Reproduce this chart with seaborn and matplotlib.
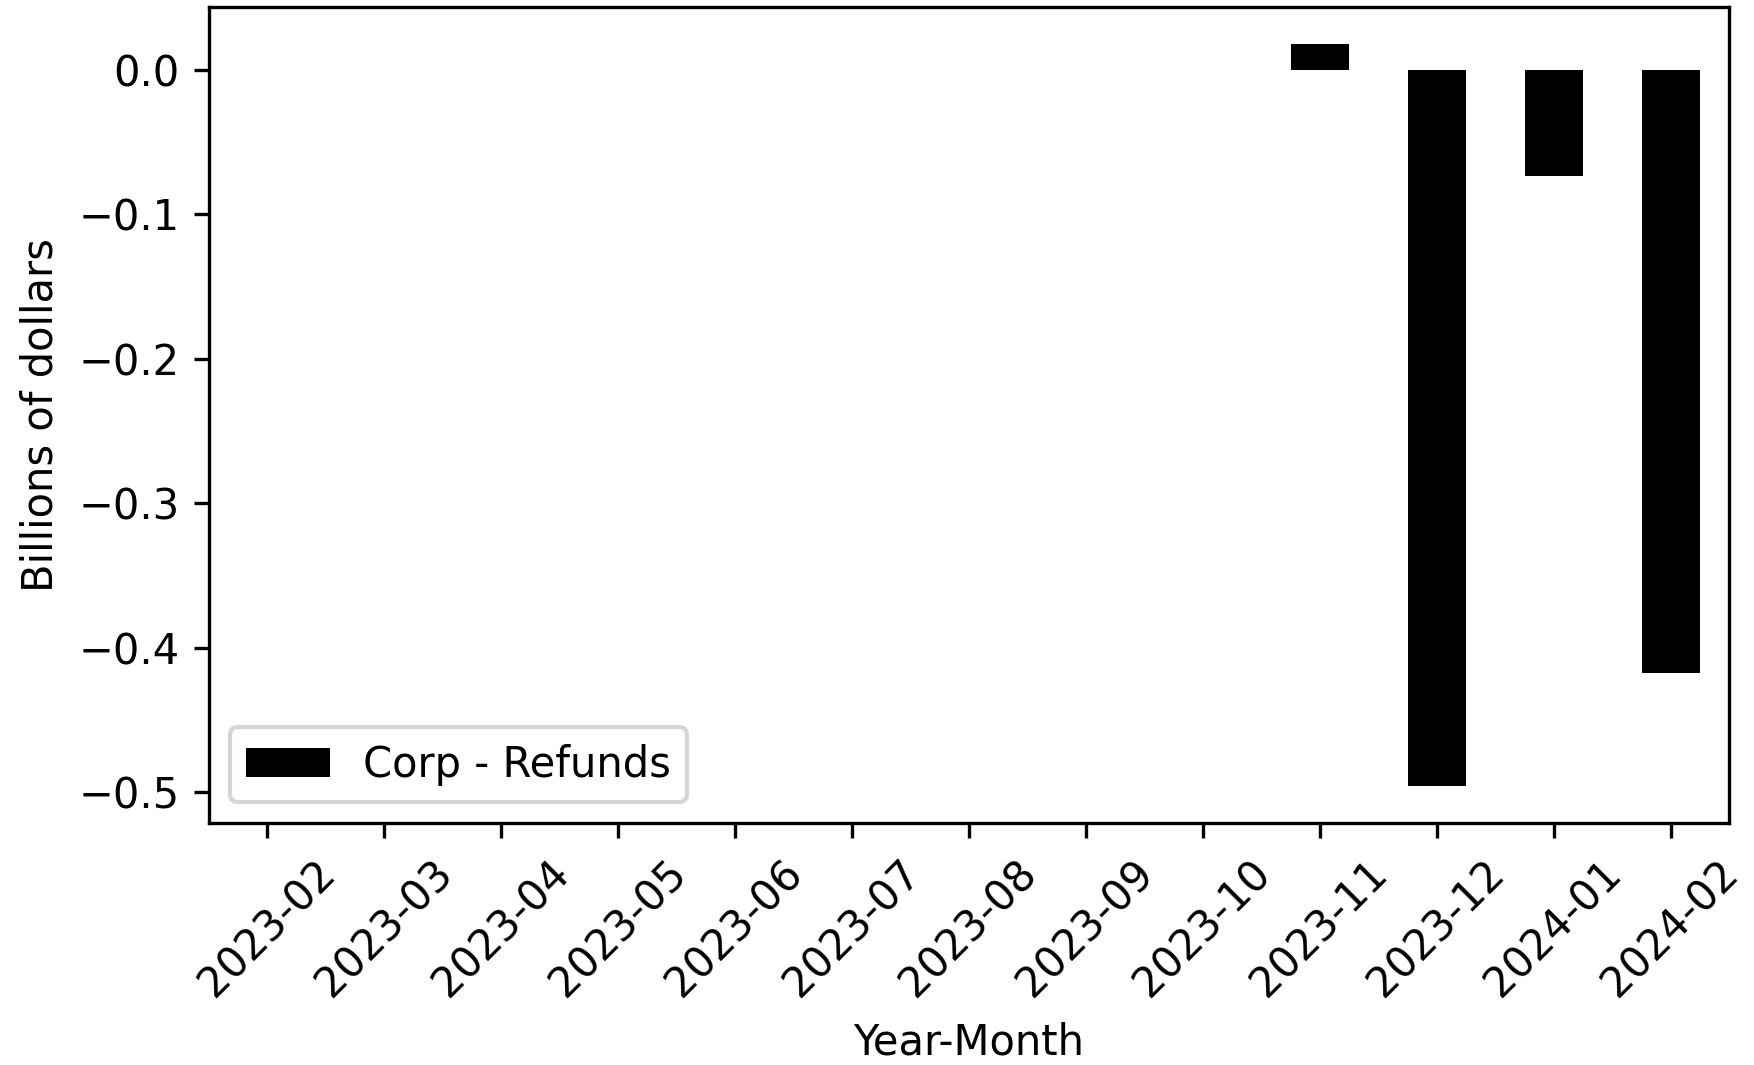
import pandas as pd
import matplotlib
matplotlib.use("Agg")
import matplotlib.pyplot as plt
import seaborn as sns

# Dati (miliardi di dollari)
mesi = ["2023-02", "2023-03", "2023-04", "2023-05", "2023-06", "2023-07",
        "2023-08", "2023-09", "2023-10", "2023-11", "2023-12", "2024-01", "2024-02"]
rimborsi = [0.0, 0.0, 0.0, 0.0, 0.0, 0.0, 0.0, 0.0, 0.0, 0.0178, -0.4956, -0.0737, -0.4176]

df = pd.DataFrame({"Year-Month": mesi, "Corp - Refunds": rimborsi})

fig, ax = plt.subplots(figsize=(1754 / 300, 1065 / 300), dpi=300)
fig.subplots_adjust(left=0.119, right=0.986, top=0.9934, bottom=0.227)

sns.barplot(data=df, x="Year-Month", y="Corp - Refunds", color="black",
            saturation=1, width=0.5, label="Corp - Refunds", ax=ax)

ax.set_xlim(-0.5, len(mesi) - 0.5)
ax.set_ylim(-0.5213, 0.0435)
ax.set_xlabel("Year-Month")
ax.set_ylabel("Billions of dollars")
plt.setp(ax.get_xticklabels(), rotation=45)
ax.legend(loc="lower left")

fig.savefig("out.png", dpi=300)
